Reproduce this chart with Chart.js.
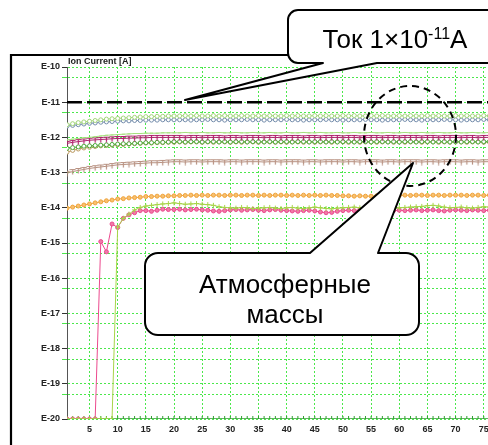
<!DOCTYPE html>
<html><head><meta charset="utf-8">
<script src="https://cdn.jsdelivr.net/npm/chart.js@4.4.1/dist/chart.umd.min.js"></script>
<style>
html,body{margin:0;padding:0;width:488px;height:445px;overflow:hidden;background:#fff;}
#wrap{position:absolute;left:0;top:0;width:500px;height:445px;}
</style></head><body>
<div id="wrap"><canvas id="c"></canvas></div>
<script>
// Scan number (x axis)
const scans = Array.from({length: 77}, (_, i) => i + 1);
// Y tick exponents (E-10 ... E-20)
const decadeTicks = [-10,-11,-12,-13,-14,-15,-16,-17,-18,-19,-20];
const xTickLabels = [5,10,15,20,25,30,35,40,45,50,55,60,65,70,75];
const thresholdLevel = -11; // Ток 1×10^-11 A

// Series values as log10(Ion Current [A])
const seriesTopGreen = [-11.64,-11.61,-11.58,-11.56,-11.54,-11.52,-11.50,-11.48,-11.47,-11.46,
 -11.45,-11.44,-11.43,-11.42,-11.41,-11.41,-11.40,-11.40,-11.39,-11.39,
 -11.39,-11.38,-11.39,-11.38,-11.39,-11.39,-11.38,-11.39,-11.38,-11.39,
 -11.39,-11.38,-11.39,-11.39,-11.38,-11.39,-11.38,-11.39,-11.39,-11.38,
 -11.39,-11.38,-11.39,-11.39,-11.38,-11.39,-11.38,-11.39,-11.39,-11.38,
 -11.39,-11.38,-11.39,-11.39,-11.38,-11.39,-11.38,-11.39,-11.39,-11.38,
 -11.39,-11.38,-11.39,-11.39,-11.38,-11.39,-11.38,-11.39,-11.39,-11.38,
 -11.39,-11.38,-11.39,-11.39,-11.38,-11.39,-11.38];
const seriesBlue = [-11.68,-11.66,-11.64,-11.62,-11.60,-11.59,-11.57,-11.56,-11.55,-11.54,
 -11.53,-11.53,-11.52,-11.52,-11.51,-11.51,-11.51,-11.50,-11.50,-11.50,
 -11.50,-11.50,-11.51,-11.50,-11.50,-11.49,-11.50,-11.50,-11.51,-11.50,
 -11.50,-11.50,-11.49,-11.50,-11.50,-11.51,-11.50,-11.50,-11.50,-11.49,
 -11.50,-11.50,-11.51,-11.50,-11.50,-11.50,-11.49,-11.50,-11.50,-11.51,
 -11.50,-11.50,-11.50,-11.49,-11.50,-11.50,-11.51,-11.50,-11.50,-11.50,
 -11.49,-11.50,-11.50,-11.51,-11.50,-11.50,-11.50,-11.49,-11.50,-11.50,
 -11.51,-11.50,-11.50,-11.50,-11.49,-11.50,-11.50];
const seriesLightLine = [-12.07,-12.05,-12.03,-12.01,-12.00,-11.98,-11.96,-11.94,-11.93,-11.92,
 -11.91,-11.90,-11.89,-11.89,-11.88,-11.88,-11.88,-11.87,-11.87,-11.87,
 -11.87,-11.86,-11.87,-11.87,-11.86,-11.87,-11.87,-11.86,-11.87,-11.87,
 -11.86,-11.87,-11.87,-11.86,-11.87,-11.87,-11.86,-11.87,-11.87,-11.86,
 -11.87,-11.87,-11.86,-11.87,-11.87,-11.86,-11.87,-11.87,-11.86,-11.87,
 -11.87,-11.86,-11.87,-11.87,-11.86,-11.87,-11.87,-11.86,-11.87,-11.87,
 -11.86,-11.87,-11.87,-11.86,-11.87,-11.87,-11.86,-11.87,-11.87,-11.86,
 -11.87,-11.87,-11.86,-11.87,-11.87,-11.86,-11.87];
const seriesMagenta = [-12.17,-12.14,-12.12,-12.10,-12.08,-12.07,-12.06,-12.05,-12.04,-12.03,
 -12.03,-12.02,-12.02,-12.01,-12.01,-12.00,-12.00,-12.00,-12.00,-12.00,
 -12.00,-12.01,-12.00,-12.00,-12.01,-12.00,-12.00,-12.00,-12.01,-12.00,
 -12.00,-12.01,-12.00,-12.00,-12.00,-12.01,-12.00,-12.00,-12.01,-12.00,
 -12.00,-12.00,-12.01,-12.00,-12.00,-12.01,-12.00,-12.00,-12.00,-12.01,
 -12.00,-12.00,-12.01,-12.00,-12.00,-12.00,-12.01,-12.00,-12.00,-12.01,
 -12.00,-12.00,-12.00,-12.01,-12.00,-12.00,-12.01,-12.00,-12.00,-12.00,
 -12.01,-12.00,-12.00,-12.01,-12.00,-12.00,-12.00];
const seriesGreen = [-12.31,-12.29,-12.27,-12.25,-12.24,-12.23,-12.22,-12.21,-12.20,-12.19,
 -12.18,-12.18,-12.17,-12.16,-12.15,-12.15,-12.14,-12.14,-12.13,-12.12,
 -12.12,-12.13,-12.12,-12.12,-12.13,-12.12,-12.12,-12.13,-12.12,-12.13,
 -12.12,-12.12,-12.13,-12.12,-12.12,-12.13,-12.12,-12.13,-12.12,-12.12,
 -12.13,-12.12,-12.12,-12.13,-12.12,-12.12,-12.13,-12.12,-12.13,-12.12,
 -12.12,-12.13,-12.12,-12.12,-12.13,-12.12,-12.12,-12.13,-12.12,-12.13,
 -12.12,-12.12,-12.13,-12.12,-12.12,-12.13,-12.12,-12.12,-12.13,-12.12,
 -12.13,-12.12,-12.12,-12.13,-12.12,-12.12,-12.13];
const seriesTan = [-12.42,-12.37,-12.33,-12.30,-12.28,-12.26,-12.24,-12.23,-12.22,-12.21,
 -12.20,-12.19,-12.18,-12.17,-12.16,-12.16,-12.15,-12.15,-12.14,-12.14,
 -12.13,-12.14,-12.13,-12.13,-12.14,-12.13,-12.14,-12.13,-12.13,-12.14,
 -12.13,-12.14,-12.13,-12.13,-12.14,-12.13,-12.13,-12.14,-12.13,-12.14,
 -12.13,-12.13,-12.14,-12.13,-12.14,-12.13,-12.13,-12.14,-12.13,-12.13,
 -12.14,-12.13,-12.14,-12.13,-12.13,-12.14,-12.13,-12.13,-12.14,-12.13,
 -12.14,-12.13,-12.13,-12.14,-12.13,-12.13,-12.14,-12.13,-12.14,-12.13,
 -12.13,-12.14,-12.13,-12.13,-12.14,-12.13,-12.13];
const seriesRosy = [-13.02,-12.97,-12.94,-12.91,-12.88,-12.86,-12.84,-12.82,-12.80,-12.78,
 -12.77,-12.76,-12.75,-12.74,-12.73,-12.72,-12.72,-12.71,-12.70,-12.69,
 -12.69,-12.70,-12.69,-12.69,-12.70,-12.69,-12.69,-12.69,-12.70,-12.69,
 -12.69,-12.70,-12.69,-12.69,-12.69,-12.70,-12.69,-12.69,-12.70,-12.69,
 -12.69,-12.69,-12.70,-12.69,-12.69,-12.70,-12.69,-12.69,-12.69,-12.70,
 -12.69,-12.69,-12.70,-12.69,-12.69,-12.69,-12.70,-12.69,-12.69,-12.70,
 -12.69,-12.69,-12.69,-12.70,-12.69,-12.69,-12.70,-12.69,-12.69,-12.69,
 -12.70,-12.69,-12.69,-12.70,-12.69,-12.69,-12.69];
const seriesOrange = [-14.01,-13.98,-13.95,-13.92,-13.89,-13.86,-13.83,-13.80,-13.78,-13.75,
 -13.74,-13.72,-13.71,-13.70,-13.68,-13.68,-13.67,-13.67,-13.66,-13.66,
 -13.65,-13.65,-13.64,-13.65,-13.64,-13.65,-13.64,-13.64,-13.65,-13.64,
 -13.64,-13.65,-13.64,-13.64,-13.65,-13.64,-13.65,-13.64,-13.64,-13.65,
 -13.64,-13.65,-13.64,-13.65,-13.64,-13.65,-13.64,-13.65,-13.65,-13.66,
 -13.66,-13.67,-13.66,-13.67,-13.67,-13.66,-13.67,-13.66,-13.65,-13.65,
 -13.64,-13.65,-13.64,-13.64,-13.65,-13.64,-13.64,-13.65,-13.64,-13.64,
 -13.64,-13.65,-13.64,-13.64,-13.65,-13.64,-13.64];
const seriesLime = [-20,-20,-20,-20,-20,-20,-20,-20,-20,
 -14.55,-14.30,-14.18,-14.06,-13.99,-13.95,-13.93,-13.91,-13.89,-13.88,-13.86,
 -13.88,-13.90,-13.89,-13.88,-13.90,-13.91,-13.93,-13.97,-13.99,-14.00,
 -14.01,-13.99,-14.00,-14.02,-14.01,-14.00,-13.99,-14.01,-14.02,-14.00,
 -13.99,-14.01,-14.02,-14.00,-13.98,-14.00,-14.02,-14.03,-14.01,-14.00,
 -13.99,-13.98,-14.00,-14.01,-14.02,-14.00,-13.99,-14.01,-14.02,-14.00,
 -13.99,-13.98,-13.97,-13.96,-13.94,-13.93,-13.95,-13.98,-14.00,-13.99,
 -13.98,-14.00,-14.01,-13.99,-13.97,-13.98,-14.00];
const seriesPink = [-20,-20,-20,-20,-20,-20,-14.96,-15.25,-14.46,-14.56,
 -14.30,-14.20,-14.14,-14.08,-14.08,-14.10,-14.07,-14.04,-14.05,-14.05,
 -14.04,-14.06,-14.05,-14.04,-14.06,-14.07,-14.09,-14.10,-14.08,-14.06,
 -14.05,-14.07,-14.06,-14.05,-14.07,-14.08,-14.06,-14.05,-14.07,-14.08,
 -14.09,-14.10,-14.08,-14.07,-14.09,-14.12,-14.14,-14.13,-14.10,-14.08,
 -14.07,-14.08,-14.06,-14.07,-14.08,-14.06,-14.07,-14.09,-14.08,-14.07,
 -14.08,-14.07,-14.06,-14.08,-14.07,-14.06,-14.08,-14.09,-14.07,-14.06,
 -14.07,-14.08,-14.06,-14.07,-14.08,-14.07,-14.06];
const seriesFloor = [-20,-20,-20,-20,-20,-20,-20,-20,-20,-20,-20,-20,-20,-20,-20,-20,-20,-20,-20,-20,
 -20,-20,-20,-20,-20,-20,-20,-20,-20,-20,-20,-20,-20,-20,-20,-20,-20,-20,-20,-20,
 -20,-20,-20,-20,-20,-20,-20,-20,-20,-20,-20,-20,-20,-20,-20,-20,-20,-20,-20,-20,
 -20,-20,-20,-20,-20,-20,-20,-20,-20,-20,-20,-20,-20,-20,-20,-20,-20];

function tMarker(color){
  const c = document.createElement('canvas'); c.width = 7; c.height = 7;
  const g = c.getContext('2d'); g.strokeStyle = color; g.lineWidth = 1.2;
  g.beginPath(); g.moveTo(0.5,1.5); g.lineTo(6.5,1.5); g.moveTo(3.5,1.5); g.lineTo(3.5,6.5); g.stroke();
  return c;
}
const pts = arr => scans.map((x, i) => ({x: x, y: arr[i]}));
function ds(arr, color, style, radius, fill){
  return {data: pts(arr), borderColor: color, borderWidth: 1, pointStyle: style,
    pointRadius: radius, pointBorderColor: color, pointBackgroundColor: fill || '#fff',
    pointBorderWidth: 1, tension: 0, fill: false};
}

const overlay = {
  id: 'overlay',
  beforeDraw(chart){
    const ctx = chart.ctx;
    ctx.save();
    ctx.fillStyle = '#fff'; ctx.fillRect(0,0,chart.width,chart.height);
    ctx.restore();
  },
  afterDraw(chart){
    const ctx = chart.ctx;
    ctx.save();
    // frame
    ctx.strokeStyle = '#000'; ctx.lineWidth = 2.2;
    ctx.beginPath(); ctx.moveTo(11, 460); ctx.lineTo(11, 55); ctx.lineTo(520, 55); ctx.stroke();
    // axis title
    ctx.fillStyle = '#222'; ctx.font = 'bold 9px "Liberation Sans", Arial, sans-serif';
    ctx.textAlign = 'left'; ctx.textBaseline = 'alphabetic';
    ctx.fillText('Ion Current [A]', 68, 64);
    // dashed ellipse
    ctx.setLineDash([7,5]); ctx.lineWidth = 2; ctx.strokeStyle = '#000';
    ctx.beginPath(); ctx.ellipse(410, 136, 46, 50, 0, 0, Math.PI*2); ctx.stroke();
    ctx.setLineDash([]);
    // callout 1 (pointer on bottom)
    ctx.lineWidth = 2; ctx.fillStyle = '#fff'; ctx.lineJoin = 'round';
    let x0=288,y0=10,x1=530,y1=63,r=10;
    ctx.beginPath();
    ctx.moveTo(x0+r,y0); ctx.lineTo(x1-r,y0); ctx.arcTo(x1,y0,x1,y0+r,r);
    ctx.lineTo(x1,y1-r); ctx.arcTo(x1,y1,x1-r,y1,r);
    ctx.lineTo(377,y1); ctx.lineTo(185,100); ctx.lineTo(323,y1);
    ctx.lineTo(x0+r,y1); ctx.arcTo(x0,y1,x0,y1-r,r); ctx.lineTo(x0,y0+r); ctx.arcTo(x0,y0,x0+r,y0,r);
    ctx.closePath(); ctx.fill(); ctx.stroke();
    // callout 1 text
    ctx.fillStyle = '#000';
    const big = '26px "Liberation Sans", Arial, sans-serif', small = '16px "Liberation Sans", Arial, sans-serif';
    ctx.font = big; const w1 = ctx.measureText('Ток 1×10').width; const w3 = ctx.measureText('A').width;
    ctx.font = small; const w2 = ctx.measureText('-11').width;
    let sx = 395 - (w1+w2+w3)/2;
    ctx.font = big; ctx.fillText('Ток 1×10', sx, 48);
    ctx.font = small; ctx.fillText('-11', sx+w1, 39);
    ctx.font = big; ctx.fillText('A', sx+w1+w2, 48);
    // callout 2 (pointer on top)
    ctx.fillStyle = '#fff';
    x0=145; y0=253; x1=419; y1=335; r=13;
    ctx.beginPath();
    ctx.moveTo(x0+r,y0); ctx.lineTo(310,y0); ctx.lineTo(413,163); ctx.lineTo(378,y0);
    ctx.lineTo(x1-r,y0); ctx.arcTo(x1,y0,x1,y0+r,r);
    ctx.lineTo(x1,y1-r); ctx.arcTo(x1,y1,x1-r,y1,r);
    ctx.lineTo(x0+r,y1); ctx.arcTo(x0,y1,x0,y1-r,r); ctx.lineTo(x0,y0+r); ctx.arcTo(x0,y0,x0+r,y0,r);
    ctx.closePath(); ctx.fill(); ctx.stroke();
    ctx.fillStyle = '#000'; ctx.font = big; ctx.textAlign = 'center';
    ctx.fillText('Атмосферные', 285, 293);
    ctx.fillText('массы', 285, 323);
    ctx.restore();
  }
};

const gridGreen = '#4be84b';
new Chart(document.getElementById('c'), {
  type: 'line',
  data: {
    datasets: [
      {data: pts(scans.map(() => thresholdLevel)), borderColor: '#000', borderWidth: 2.5, borderDash: [15,5], pointRadius: 0, fill: false},
      ds(seriesTopGreen, '#a3d67a', 'circle', 2),
      ds(seriesBlue, '#7890ae', 'circle', 2),
      ds(seriesLightLine, '#a6e07e', 'line', 1.5),
      ds(seriesMagenta, '#b0206c', tMarker('#b0206c'), 3),
      ds(seriesGreen, '#4caa3a', 'circle', 2),
      ds(seriesTan, '#bb9a60', 'circle', 2),
      ds(seriesRosy, '#b89282', tMarker('#b89282'), 3),
      ds(seriesOrange, '#f0a43c', 'circle', 2, '#f8c070'),
      ds(seriesLime, '#a8d44a', 'cross', 2.5),
      ds(seriesPink, '#ec4a8e', 'circle', 2, '#f07aa8'),
      ds(seriesFloor, '#2e9e2e', 'cross', 3)
    ]
  },
  options: {
    animation: false, responsive: true, maintainAspectRatio: false,
    layout: {padding: {top: 67, left: 0, right: 0, bottom: 0}},
    plugins: {legend: {display: false}, tooltip: {enabled: false}},
    scales: {
      x: {
        type: 'linear', min: 1, max: 77,
        afterBuildTicks: s => { s.ticks = xTickLabels.map(v => ({value: v})); },
        afterFit: s => { s.height = 26; },
        grid: {color: gridGreen, lineWidth: 1, drawTicks: false},
        border: {display: false, dash: [2,2]},
        ticks: {padding: 5, color: '#222', font: {family: '"Liberation Sans", Arial, sans-serif', size: 9, weight: 'bold'}, maxRotation: 0}
      },
      y: {
        type: 'linear', min: -20, max: -10,
        afterBuildTicks: s => {
          const t = [];
          decadeTicks.forEach(d => { t.push({value: d}); if (d > -20) t.push({value: d - Math.log10(2)}); });
          s.ticks = t;
        },
        afterFit: s => { s.width = 67; },
        grid: {color: gridGreen, lineWidth: 1, tickLength: 5,
          tickColor: c => Number.isInteger(c.tick && c.tick.value) ? '#333' : gridGreen},
        border: {display: true, color: '#555', width: 1, dash: [2,2]},
        ticks: {padding: 2, color: '#222', autoSkip: false,
          font: {family: '"Liberation Sans", Arial, sans-serif', size: 9, weight: 'bold'},
          callback: v => Number.isInteger(v) ? 'E' + v : ''}
      }
    }
  },
  plugins: [overlay]
});
</script>
</body></html>
